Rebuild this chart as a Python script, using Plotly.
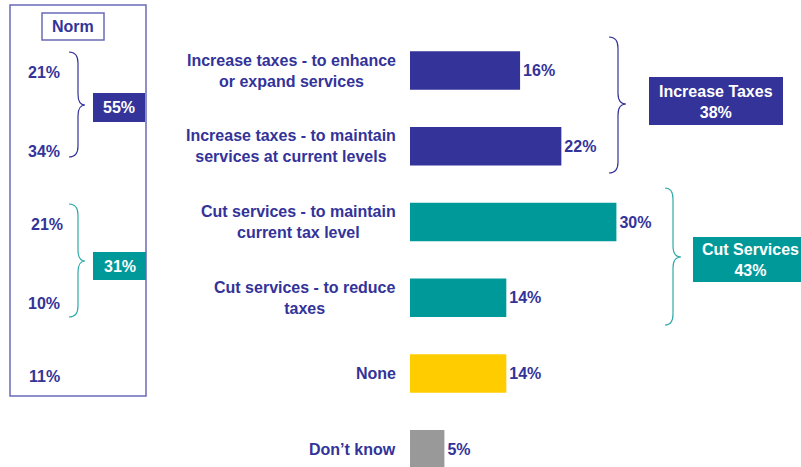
import plotly.graph_objects as go

# Survey responses (% of respondents)
categories = [
    "Increase taxes - to enhance<br>or expand services",
    "Increase taxes - to maintain<br>services at current levels",
    "Cut services - to maintain<br>current tax level",
    "Cut services - to reduce<br>taxes",
    "None",
    "Don\u2019t know",
]
values = [16, 22, 30, 14, 14, 5]
bar_colors = ["#333399", "#333399", "#009999", "#009999", "#FFCC00", "#999999"]

# Group totals for the current wave
group_labels = ["Increase Taxes", "Cut Services"]
group_totals = [38, 43]

# Norm comparison
norm_values = [21, 34, 21, 10, 11]
norm_groups = [55, 31]

NAVY = "#333399"
TEAL = "#009999"
FONT = "Liberation Sans, Arial, sans-serif"

W, H = 801, 467
L, R = 410, 47
PLOT_W = W - L - R


def px(x):
    return (x - L) / PLOT_W


def py(y):
    return 1 - y / H


def brace(x0, x1, x2, ytop, ybot, ymid, color, r=11):
    pts = [
        f"M {px(x0)},{py(ytop)}",
        f"Q {px(x1)},{py(ytop)} {px(x1)},{py(ytop + r)}",
        f"L {px(x1)},{py(ymid - r)}",
        f"Q {px(x1)},{py(ymid)} {px(x2)},{py(ymid)}",
        f"Q {px(x1)},{py(ymid)} {px(x1)},{py(ymid + r)}",
        f"L {px(x1)},{py(ybot - r)}",
        f"Q {px(x1)},{py(ybot)} {px(x0)},{py(ybot)}",
    ]
    return dict(type="path", xref="paper", yref="paper", path=" ".join(pts),
                line=dict(color=color, width=1.2))


def box(x0, x1, y0, y1, fill=None, line=None, lw=1.5):
    return dict(type="rect", xref="paper", yref="paper",
                x0=px(x0), x1=px(x1), y0=py(y1), y1=py(y0),
                fillcolor=fill if fill else "rgba(0,0,0,0)",
                line=dict(color=line if line else "rgba(0,0,0,0)", width=lw if line else 0),
                layer="above")


rows = list(range(len(categories)))

fig = go.Figure(go.Bar(
    x=values, y=rows, orientation="h",
    marker=dict(color=bar_colors, line=dict(width=0)),
    width=0.51,
    text=[f"{v}%" for v in values], textposition="outside",
    textfont=dict(family=FONT, size=16, color=NAVY, weight="bold"),
    cliponaxis=False, hoverinfo="skip",
))

annotations = []
for i, cat in enumerate(categories):
    annotations.append(dict(
        xref="paper", yref="y", x=px(398), y=i, xanchor="right", yanchor="middle",
        text=f"<b>{cat}</b>", align="center", showarrow=False,
        font=dict(family=FONT, size=16, color=NAVY),
    ))

# Norm panel values
norm_x = [44, 44, 47, 44, 44]
norm_shift = [-2, -5, -2, -6, -3]
for i, v in enumerate(norm_values):
    annotations.append(dict(
        xref="paper", yref="y", x=px(norm_x[i]), y=i, yshift=norm_shift[i],
        xanchor="center", yanchor="middle", text=f"<b>{v}%</b>", showarrow=False,
        font=dict(family=FONT, size=16, color=NAVY),
    ))

annotations.append(dict(
    xref="paper", yref="paper", x=px(73), y=py(26.5), xanchor="center", yanchor="middle",
    text="<b>Norm</b>", showarrow=False, font=dict(family=FONT, size=16, color=NAVY),
))

shapes = [
    box(10, 146, 5, 396, line="#6a6ab8"),
    box(42, 104, 13, 40, line="#6a6ab8"),
    brace(69, 78, 85, 52, 157, 105, NAVY),
    brace(69, 78, 85, 204, 317, 261, "#33aaaa"),
    box(93, 145, 93, 122, fill=NAVY),
    box(93, 146, 252, 280, fill=TEAL),
    brace(609, 618, 626, 37, 173, 104, NAVY),
    brace(665, 673, 681, 188, 325, 257, "#33aaaa"),
    box(649, 783, 77, 125, fill=NAVY),
    box(693, 812, 237, 282, fill=TEAL),
]

# Norm group totals
for (cx, cy), v in zip([(119, 107.5), (119.5, 266)], norm_groups):
    annotations.append(dict(
        xref="paper", yref="paper", x=px(cx), y=py(cy), xanchor="center", yanchor="middle",
        text=f"<b>{v}%</b>", showarrow=False, font=dict(family=FONT, size=16, color="white"),
    ))

# Current group totals
for (cx, cy), lab, v in zip([(716, 102), (750, 260)], group_labels, group_totals):
    annotations.append(dict(
        xref="paper", yref="paper", x=px(cx), y=py(cy), xanchor="center", yanchor="middle",
        text=f"<b>{lab}<br>{v}%</b>", showarrow=False, align="center",
        font=dict(family=FONT, size=16, color="white"),
    ))

fig.update_layout(
    width=W, height=H,
    margin=dict(l=L, r=R, t=0, b=0),
    paper_bgcolor="white", plot_bgcolor="white",
    showlegend=False,
    xaxis=dict(range=[0, 50], visible=False, fixedrange=True),
    yaxis=dict(range=[(H - 70.5) / 75.75, -70.5 / 75.75], visible=False, fixedrange=True),
    shapes=shapes,
    annotations=annotations,
    font=dict(family=FONT),
)

fig.write_html("out.html", config={"displayModeBar": False})
